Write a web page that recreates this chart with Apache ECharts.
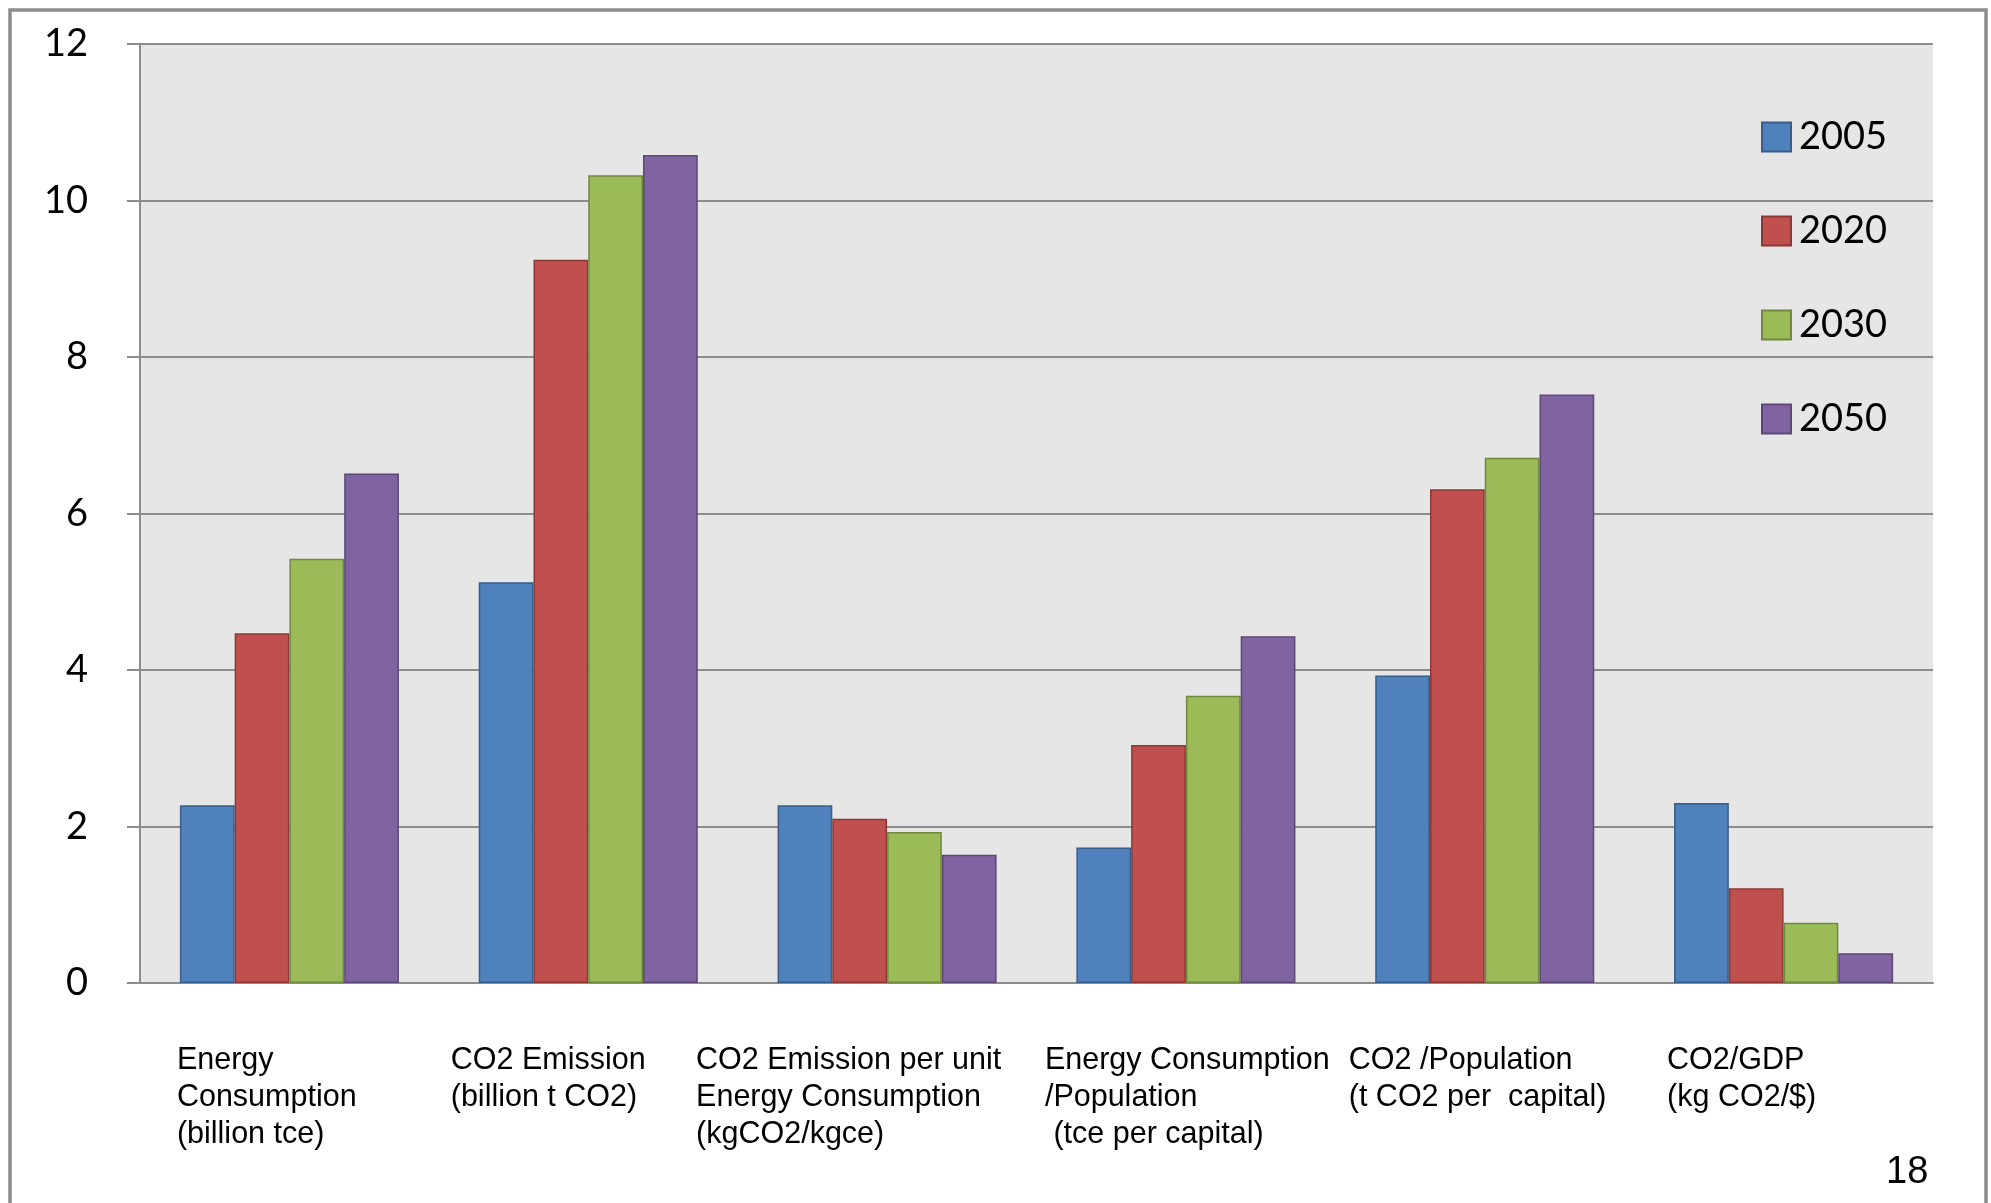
<!DOCTYPE html>
<html>
<head>
<meta charset="utf-8">
<title>Energy and CO2 indicators</title>
<script src="https://cdn.jsdelivr.net/npm/echarts@6/dist/echarts.min.js"></script>
<style>
  html, body { margin: 0; padding: 0; background: #ffffff; }
  #chart { width: 1991px; height: 1203px; }
</style>
</head>
<body>
<div id="chart"></div>
<script>
// Indicator categories (x axis)
const categories = [
  'Energy\nConsumption\n(billion tce)',
  'CO2 Emission\n(billion t CO2)',
  'CO2 Emission per unit\nEnergy Consumption\n(kgCO2/kgce)',
  'Energy Consumption\n/Population\n (tce per capital)',
  'CO2 /Population\n(t CO2 per  capital)',
  'CO2/GDP\n(kg CO2/$)'
];

// Series names
const years = ['2005', '2020', '2030', '2050'];

// Values per year, one entry per indicator
const values2005 = [2.27, 5.12, 2.27, 1.73, 3.93, 2.30];
const values2020 = [4.47, 9.24, 2.10, 3.04, 6.31, 1.21];
const values2030 = [5.42, 10.32, 1.93, 3.67, 6.71, 0.77];
const values2050 = [6.51, 10.58, 1.64, 4.43, 7.52, 0.38];

// Value axis range
const yMin = 0;
const yMax = 12;
const yStep = 2;

const seriesValues = [values2005, values2020, values2030, values2050];
const fills   = ['#4F81BD', '#C0504D', '#9BBB59', '#8064A2'];
const borders = ['#385D8A', '#8C3836', '#71893F', '#5C4776'];

// Width of each category label block; the text is left-aligned inside it
const labelBlockWidths = [225, 275, 382, 282, 272, 233];
const labelFont = "'Liberation Sans', Arial, sans-serif";
const rich = {};
labelBlockWidths.forEach((w, i) => {
  rich['c' + i] = {
    width: w,
    align: 'left',
    fontFamily: labelFont,
    fontSize: 30.5,
    lineHeight: 37,
    color: '#000000'
  };
});

const gridColor = '#8c8c8c';

const chart = echarts.init(document.getElementById('chart'), null, { renderer: 'canvas' });

chart.setOption({
  animation: false,
  backgroundColor: '#ffffff',
  grid: {
    left: 140,
    right: 58,
    top: 43.8,
    bottom: 220,
    show: true,
    backgroundColor: '#e6e6e6',
    borderWidth: 0
  },
  legend: {
    data: years,
    orient: 'vertical',
    left: 1761,
    top: 118,
    padding: 0,
    icon: 'rect',
    itemWidth: 29,
    itemHeight: 29,
    itemGap: 56,
    textStyle: {
      fontFamily: 'Lato, sans-serif',
      fontSize: 38,
      color: '#000000',
      padding: [0, 0, 0, 3]
    }
  },
  xAxis: {
    type: 'category',
    data: categories,
    axisLine: { show: true, lineStyle: { color: gridColor, width: 2 } },
    axisTick: { show: false },
    splitLine: { show: false },
    axisLabel: {
      interval: 0,
      margin: 59,
      formatter: (value, index) => '{c' + index + '|' + value + '}',
      rich: rich
    }
  },
  yAxis: {
    type: 'value',
    min: yMin,
    max: yMax,
    interval: yStep,
    axisLine: { show: true, lineStyle: { color: gridColor, width: 2 } },
    axisTick: { show: true, length: 13, lineStyle: { color: gridColor, width: 2 } },
    splitLine: { show: true, lineStyle: { color: gridColor, width: 2 } },
    axisLabel: {
      margin: 52,
      fontFamily: 'Lato, sans-serif',
      fontSize: 38,
      color: '#000000'
    }
  },
  series: years.map((name, i) => ({
    name: name,
    type: 'bar',
    data: seriesValues[i],
    barGap: '0%',
    barCategoryGap: '26.7%',
    itemStyle: {
      color: fills[i],
      borderColor: borders[i],
      borderWidth: 1.5
    }
  })),
  graphic: [
    {
      type: 'rect',
      silent: true,
      z: 100,
      shape: { x: 10, y: 10, width: 1976, height: 1250 },
      style: { fill: 'none', stroke: '#8c8c8c', lineWidth: 3.5 }
    },
    {
      type: 'text',
      silent: true,
      z: 100,
      x: 1886,
      y: 1173,
      style: {
        text: '18',
        font: "38px 'Liberation Sans', Arial, sans-serif",
        fill: '#000000',
        textAlign: 'left',
        textVerticalAlign: 'middle'
      }
    }
  ]
});
</script>
</body>
</html>
